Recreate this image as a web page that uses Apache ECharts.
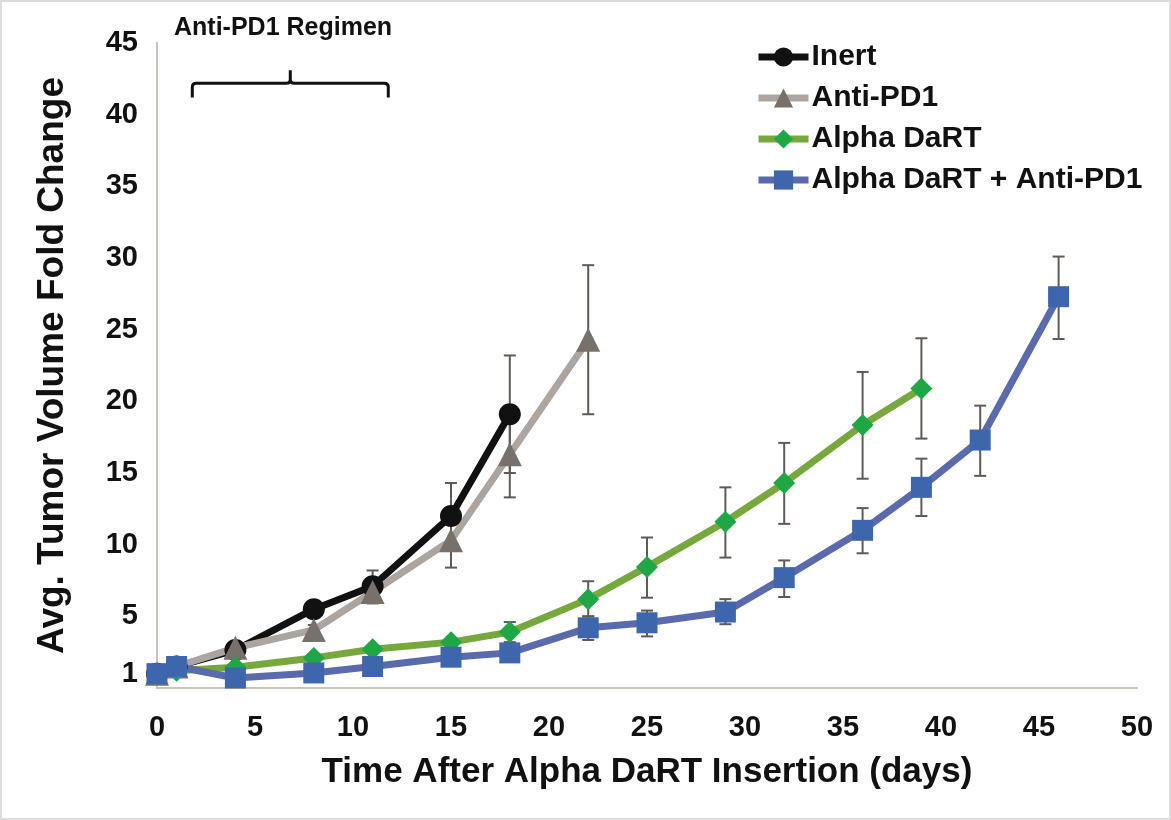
<!DOCTYPE html>
<html>
<head>
<meta charset="utf-8">
<script src="https://cdn.jsdelivr.net/npm/echarts@6/dist/echarts.min.js"></script>
<style>
html, body { margin: 0; padding: 0; background: #fff; }
#chart { width: 1171px; height: 820px; }
#frame { position: absolute; left: 0; top: 0; width: 1171px; height: 820px; box-sizing: border-box; border: 2px solid #dcdcdc; pointer-events: none; }
</style>
</head>
<body>
<div id="chart"></div>
<div id="frame"></div>
<script>
// values (fold change, mean and error bar ends)
var inertDays = [0, 1, 4, 8, 11, 15, 18];
var inertMean = [1, 1.5, 2.65, 5.5, 7.1, 12.0, 19.1];
var inertLow  = [1, 1.4, 2.4, 5.1, 6.0, 9.7, 15.0];
var inertHigh = [1, 1.6, 2.9, 5.9, 8.2, 14.3, 23.2];

var pd1Days = [0, 1, 4, 8, 11, 15, 18, 22];
var pd1Mean = [1, 1.5, 2.8, 4.05, 6.7, 10.3, 16.3, 24.3];
var pd1Low  = [1, 1.4, 2.5, 3.7, 5.9, 8.4, 13.3, 19.1];
var pd1High = [1, 1.6, 3.1, 4.4, 7.5, 12.2, 19.3, 29.5];

var dartDays = [0, 1, 4, 8, 11, 15, 18, 22, 25, 29, 32, 36, 39];
var dartMean = [1, 1.2, 1.45, 2.1, 2.7, 3.2, 3.9, 6.2, 8.45, 11.6, 14.3, 18.35, 20.9];
var dartLow  = [1, 1.1, 1.3, 1.9, 2.5, 2.9, 3.2, 5.0, 6.3, 9.1, 11.45, 14.6, 17.4];
var dartHigh = [1, 1.3, 1.6, 2.3, 2.9, 3.5, 4.6, 7.45, 10.5, 14.0, 17.1, 22.05, 24.4];

var comboDays = [0, 1, 4, 8, 11, 15, 18, 22, 25, 29, 32, 36, 39, 42, 46];
var comboMean = [1, 1.5, 0.7, 1.05, 1.5, 2.15, 2.45, 4.2, 4.55, 5.3, 7.7, 11.0, 14.0, 17.3, 27.3];
var comboLow  = [1, 1.4, 0.6, 0.9, 1.3, 1.9, 2.2, 3.35, 3.6, 4.45, 6.35, 9.4, 12.0, 14.8, 24.35];
var comboHigh = [1, 1.6, 0.8, 1.2, 1.7, 2.4, 2.7, 5.0, 5.4, 6.2, 8.9, 12.55, 16.0, 19.7, 30.1];

var yTicks = [1, 5, 10, 15, 20, 25, 30, 35, 40, 45];

// regimen bracket: day span and heights (fold-change units)
var regimenDays = [1.8, 11.8];
var regimenLevels = [41.2, 42.2, 43.1];

var FONT = '"Liberation Sans", Arial, sans-serif';

function zip(a, b) {
    return a.map(function (v, i) { return [v, b[i]]; });
}
function zip3(a, b, c) {
    return a.map(function (v, i) { return [v, b[i], c[i]]; });
}

function errorBarItem(params, api) {
    var x = api.value(0);
    var top = api.coord([x, api.value(2)]);
    var bot = api.coord([x, api.value(1)]);
    var w = 6;
    var st = { stroke: '#5f5a57', lineWidth: 2 };
    return {
        type: 'group',
        children: [
            { type: 'line', shape: { x1: top[0], y1: top[1], x2: bot[0], y2: bot[1] }, style: st },
            { type: 'line', shape: { x1: top[0] - w, y1: top[1], x2: top[0] + w, y2: top[1] }, style: st },
            { type: 'line', shape: { x1: bot[0] - w, y1: bot[1], x2: bot[0] + w, y2: bot[1] }, style: st }
        ]
    };
}

function bracketItem(params, api) {
    var a = api.coord([regimenDays[0], regimenLevels[0]]);
    var b = api.coord([regimenDays[1], regimenLevels[1]]);
    var midX = (a[0] + b[0]) / 2;
    var tip = api.coord([0, regimenLevels[2]])[1];
    var r = 4;
    var d = 'M' + a[0] + ' ' + a[1] +
        ' L' + a[0] + ' ' + (b[1] + r) +
        ' Q' + a[0] + ' ' + b[1] + ' ' + (a[0] + r) + ' ' + b[1] +
        ' L' + (midX - r) + ' ' + b[1] +
        ' Q' + midX + ' ' + b[1] + ' ' + midX + ' ' + (b[1] - r) +
        ' L' + midX + ' ' + tip +
        ' M' + midX + ' ' + (b[1] - r) +
        ' Q' + midX + ' ' + b[1] + ' ' + (midX + r) + ' ' + b[1] +
        ' L' + (b[0] - r) + ' ' + b[1] +
        ' Q' + b[0] + ' ' + b[1] + ' ' + b[0] + ' ' + (b[1] + r) +
        ' L' + b[0] + ' ' + a[1];
    return {
        type: 'path',
        shape: { pathData: d },
        style: { fill: null, stroke: '#111', lineWidth: 3 }
    };
}

function errSeries(days, low, high) {
    return {
        type: 'custom',
        renderItem: errorBarItem,
        data: zip3(days, low, high),
        z: 1,
        silent: true,
        tooltip: { show: false }
    };
}

function lineSeries(name, days, mean, lineColor, markColor, symbol, size) {
    return {
        name: name,
        type: 'line',
        data: zip(days, mean),
        symbol: symbol,
        symbolSize: size,
        showAllSymbol: true,
        lineStyle: { color: lineColor, width: 7 },
        itemStyle: { color: markColor },
        z: 3
    };
}

var chart = echarts.init(document.getElementById('chart'));

var option = {
    animation: false,
    grid: { left: 157, right: 34, top: 43, bottom: 132 },
    legend: {
        orient: 'vertical',
        left: 750,
        top: 37,
        itemWidth: 50,
        itemHeight: 24,
        itemGap: 11,
        lineStyle: { width: 7 },
        textStyle: { fontFamily: FONT, fontWeight: 'bold', fontSize: 30, color: '#111', padding: [0, 0, 0, -2] },
        data: ['Inert', 'Anti-PD1', 'Alpha DaRT', 'Alpha DaRT + Anti-PD1']
    },
    graphic: [{
        type: 'text',
        left: 174,
        top: 16,
        style: { text: 'Anti-PD1 Regimen', font: 'bold 25px ' + FONT, fill: '#111' }
    }],
    xAxis: {
        type: 'value',
        min: 0,
        max: 50,
        interval: 5,
        name: 'Time After Alpha DaRT Insertion (days)',
        nameLocation: 'middle',
        nameGap: 67,
        nameTextStyle: { fontFamily: FONT, fontWeight: 'bold', fontSize: 35, color: '#111' },
        axisLine: { lineStyle: { color: '#c6c3bd', width: 2 } },
        axisTick: { show: false },
        splitLine: { show: false },
        axisLabel: { fontFamily: FONT, fontWeight: 'bold', fontSize: 29, color: '#111', margin: 25 }
    },
    yAxis: {
        type: 'value',
        min: 0,
        max: 45,
        interval: 5,
        name: 'Avg. Tumor Volume Fold Change',
        nameLocation: 'middle',
        nameGap: 86,
        nameTextStyle: { fontFamily: FONT, fontWeight: 'bold', fontSize: 37, color: '#111' },
        axisLine: { show: true, lineStyle: { color: '#c6c3bd', width: 2 } },
        axisTick: { show: false },
        splitLine: { show: false },
        axisLabel: {
            customValues: yTicks,
            fontFamily: FONT, fontWeight: 'bold', fontSize: 29, color: '#111', margin: 19
        }
    },
    series: [
        errSeries(inertDays, inertLow, inertHigh),
        errSeries(pd1Days, pd1Low, pd1High),
        errSeries(dartDays, dartLow, dartHigh),
        errSeries(comboDays, comboLow, comboHigh),
        lineSeries('Inert', inertDays, inertMean, '#111111', '#111111', 'circle', 22),
        lineSeries('Anti-PD1', pd1Days, pd1Mean, '#aba49f', '#77706b', 'triangle', 24),
        lineSeries('Alpha DaRT', dartDays, dartMean, '#76a83e', '#20a745', 'diamond', 22),
        lineSeries('Alpha DaRT + Anti-PD1', comboDays, comboMean, '#5a6aad', '#3d66ad', 'rect', 21),
        {
            type: 'custom',
            renderItem: bracketItem,
            data: [[regimenDays[0], regimenLevels[0]]],
            silent: true,
            clip: false,
            z: 4
        }
    ]
};

chart.setOption(option);
</script>
</body>
</html>
